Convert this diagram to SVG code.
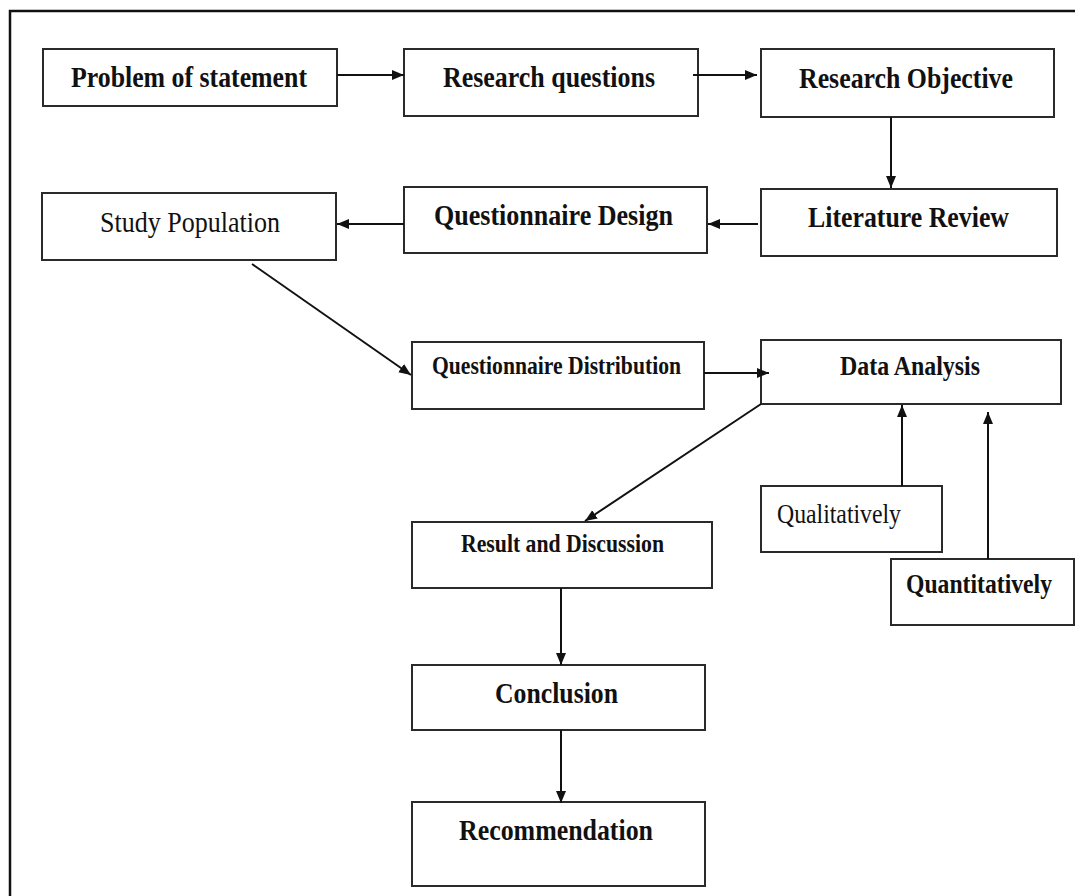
<svg xmlns="http://www.w3.org/2000/svg" width="1075" height="896" viewBox="0 0 1075 896">
<style>
.box{fill:#fff;stroke:#2a2a2a;stroke-width:2}
.t{font-family:"Liberation Serif","Times New Roman",serif;fill:#111;font-weight:bold}
.r{font-family:"Liberation Serif","Times New Roman",serif;fill:#111;font-weight:normal}
.c{stroke:#111;stroke-width:2;fill:none;marker-end:url(#ah)}
.frame{stroke:#111;stroke-width:2.5;fill:none}
</style>
<defs>
<marker id="ah" markerUnits="userSpaceOnUse" markerWidth="13" markerHeight="11" refX="12" refY="5" orient="auto">
<path d="M0,0 L12,5 L0,10 z" fill="#111"/>
</marker>
</defs>
<rect width="1075" height="896" fill="#fff"/>
<path class="frame" d="M10,896 V11 H1075"/>
<g id="n-problem"><rect class="box" x="43" y="49" width="294" height="57"/><text class="t" x="71" y="87" font-size="30" textLength="236" lengthAdjust="spacingAndGlyphs">Problem of statement</text></g>
<g id="n-questions"><rect class="box" x="404" y="49" width="294" height="67"/><text class="t" x="443" y="87" font-size="30" textLength="212" lengthAdjust="spacingAndGlyphs">Research questions</text></g>
<g id="n-objective"><rect class="box" x="761" y="49" width="293" height="68"/><text class="t" x="799" y="88" font-size="30" textLength="214" lengthAdjust="spacingAndGlyphs">Research Objective</text></g>
<g id="n-literature"><rect class="box" x="761" y="189" width="296" height="67"/><text class="t" x="808" y="227" font-size="30" textLength="201" lengthAdjust="spacingAndGlyphs">Literature Review</text></g>
<g id="n-qdesign"><rect class="box" x="404" y="187" width="303" height="66"/><text class="t" x="434" y="225" font-size="30" textLength="239" lengthAdjust="spacingAndGlyphs">Questionnaire Design</text></g>
<g id="n-population"><rect class="box" x="42" y="193" width="294" height="67"/><text class="r" x="100" y="232" font-size="30" textLength="180" lengthAdjust="spacingAndGlyphs">Study Population</text></g>
<g id="n-distribution"><rect class="box" x="412" y="342" width="292" height="67"/><text class="t" x="432" y="374" font-size="25" textLength="249" lengthAdjust="spacingAndGlyphs">Questionnaire Distribution</text></g>
<g id="n-analysis"><rect class="box" x="761" y="340" width="300" height="64"/><text class="t" x="840" y="375" font-size="27" textLength="140" lengthAdjust="spacingAndGlyphs">Data Analysis</text></g>
<g id="n-qualitative"><rect class="box" x="761" y="486" width="181" height="66"/><text class="r" x="777" y="523" font-size="27" textLength="124" lengthAdjust="spacingAndGlyphs">Qualitatively</text></g>
<g id="n-quantitative"><rect class="box" x="891" y="559" width="183" height="66"/><text class="t" x="906" y="593" font-size="27" textLength="146" lengthAdjust="spacingAndGlyphs">Quantitatively</text></g>
<g id="n-result"><rect class="box" x="412" y="522" width="300" height="66"/><text class="t" x="461" y="552" font-size="25" textLength="203" lengthAdjust="spacingAndGlyphs">Result and Discussion</text></g>
<g id="n-conclusion"><rect class="box" x="412" y="665" width="293" height="65"/><text class="t" x="495" y="703" font-size="30" textLength="123" lengthAdjust="spacingAndGlyphs">Conclusion</text></g>
<g id="n-recommendation"><rect class="box" x="412" y="802" width="293" height="84"/><text class="t" x="459" y="840" font-size="30" textLength="194" lengthAdjust="spacingAndGlyphs">Recommendation</text></g>
<g id="connectors">
<line class="c" x1="337" y1="75" x2="404" y2="75"/>
<line class="c" x1="693" y1="75" x2="757" y2="75"/>
<line class="c" x1="891" y1="117" x2="891" y2="188"/>
<line class="c" x1="758" y1="224" x2="708" y2="224"/>
<line class="c" x1="404" y1="224" x2="337" y2="224"/>
<line class="c" x1="252" y1="264" x2="411" y2="375"/>
<line class="c" x1="704" y1="373" x2="769" y2="373"/>
<line class="c" x1="761" y1="404" x2="585" y2="521"/>
<line class="c" x1="902" y1="486" x2="902" y2="405"/>
<line class="c" x1="988" y1="559" x2="988" y2="412"/>
<line class="c" x1="561" y1="588" x2="561" y2="665"/>
<line class="c" x1="561" y1="730" x2="561" y2="803"/>
</g>
</svg>
